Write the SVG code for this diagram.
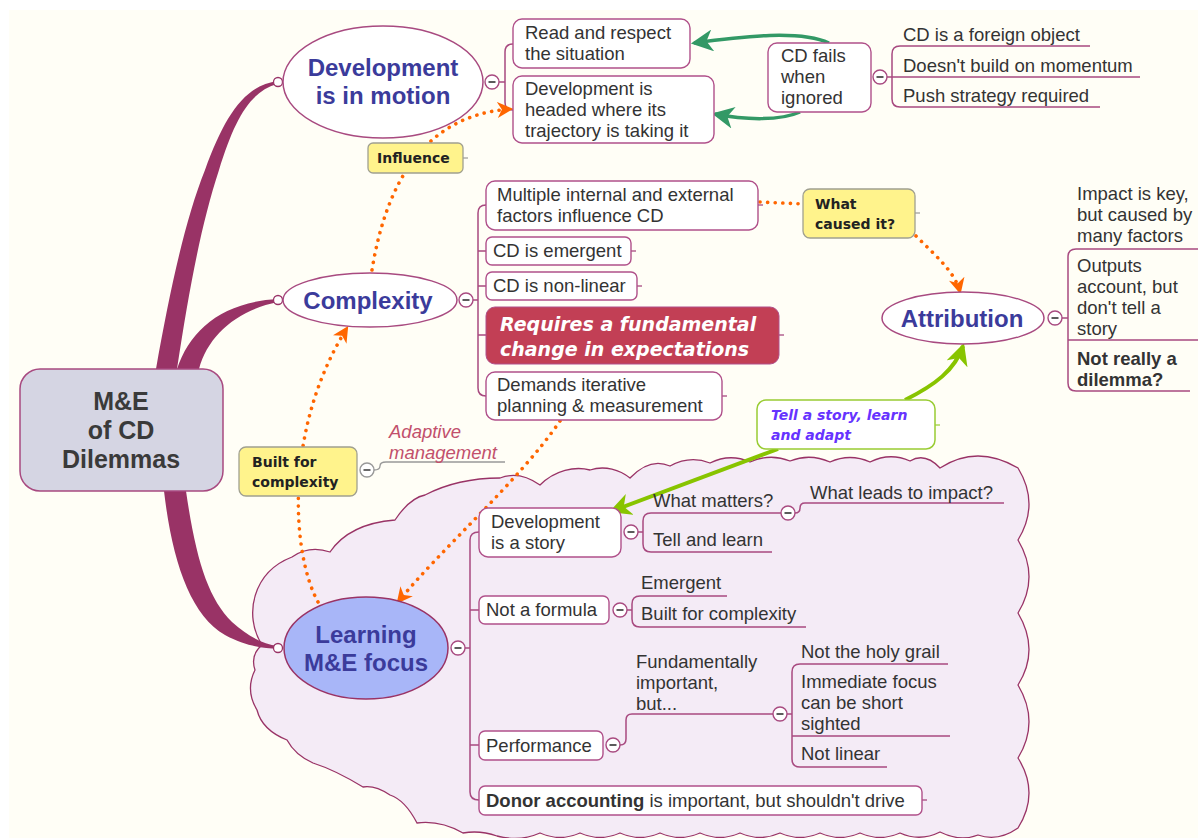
<svg xmlns="http://www.w3.org/2000/svg" width="1198" height="838" viewBox="0 0 1198 838">
<style>
.t{font-family:"Liberation Sans",Arial,sans-serif;font-size:18.5px;fill:#333}
.b{font-weight:bold}
.title{font-family:"Liberation Sans",Arial,sans-serif;font-size:24px;font-weight:bold;fill:#3B3B9B;text-anchor:middle}
.lab{font-family:"DejaVu Sans",Verdana,sans-serif;font-size:14px;font-weight:bold;fill:#222}
.box{fill:#fff;stroke:#B0508A;stroke-width:1.4}
.yel{fill:#FFF38C;stroke:#A0A090;stroke-width:1.3}
.br{fill:none;stroke:#A84A80;stroke-width:1.5}
.gr{fill:none;stroke:#999;stroke-width:1.3}
.dot{fill:none;stroke:#FF6600;stroke-width:3.6;stroke-dasharray:0.1 7.5;stroke-linecap:round}
.branch{fill:#993366}
.stub{stroke:#A84A80;stroke-width:1.3}
</style>
<defs>
<g id="minus"><circle r="7" fill="#fff" stroke="#A84A80" stroke-width="1.4"/><line x1="-3.5" x2="3.5" stroke="#333" stroke-width="1.6"/></g>
<g id="minusg"><circle r="7" fill="#fff" stroke="#999" stroke-width="1.4"/><line x1="-3.5" x2="3.5" stroke="#444" stroke-width="1.6"/></g>
<g id="open"><circle r="4.5" fill="#fff" stroke="#993366" stroke-width="1.3"/></g>
<marker id="ao" viewBox="0 0 14 14" refX="12" refY="7" markerWidth="16" markerHeight="16" markerUnits="userSpaceOnUse" orient="auto"><path d="M0,0 L14,7 L0,14 L4,7 Z" fill="#FF6600"/></marker>
<marker id="ag" viewBox="0 0 14 14" refX="12" refY="7" markerWidth="22" markerHeight="22" markerUnits="userSpaceOnUse" orient="auto"><path d="M0,0 L14,7 L0,14 L4,7 Z" fill="#339966"/></marker>
<marker id="al" viewBox="0 0 14 14" refX="12" refY="7" markerWidth="22" markerHeight="22" markerUnits="userSpaceOnUse" orient="auto"><path d="M0,0 L14,7 L0,14 L4,7 Z" fill="#88C400"/></marker>
</defs>
<rect width="1198" height="838" fill="#fff"/>
<rect x="9" y="10" width="1189" height="828" fill="#FFFEF6"/>

<!-- cloud boundary -->
<path id="cloud" d="M262,645 C243,615 253,572 292,557 C305,548 318,548 330,552 C345,530 370,522 395,520 C405,505 415,497 425,495 C450,482 475,478 500,478 C515,472 530,478 540,485 C555,470 575,466 590,470 C605,465 620,470 630,478 Q650,457 670,466 Q690,455 710,463 Q730,453 750,462 Q770,453 790,461 Q810,453 830,462 Q850,453 870,462 Q890,452 910,461 Q925,452 940,468 Q977,444 1018,468 Q1040,504 1018,540 Q1040,577 1018,613 Q1040,650 1018,685 Q1040,722 1018,758 Q1040,793 1018,828 Q998,842 978,835 Q960,842 940,832 Q920,842 900,833 Q880,842 860,833 Q840,842 820,833 Q800,842 780,833 Q760,842 740,833 Q720,842 700,833 Q680,842 660,833 Q640,842 620,833 Q600,842 580,833 Q560,842 540,833 Q520,842 497,836 Q480,830 463,833 Q440,820 417,823 Q405,800 390,795 Q375,785 363,787 Q335,770 313,763 Q295,755 287,740 Q262,730 257,710 Q245,690 255,670 Q250,655 262,645 Z" fill="#F4EBF6" stroke="#993366" stroke-width="1.3"/>

<g id="connectors">
<!-- main branches -->
<path class="branch" d="M156,369 C170,290 185,220 205,170 C225,115 245,85 278,81 L277,84 C250,92 235,118 219,170 C201,225 189,290 177,369 Z"/>
<path class="branch" d="M177,369 C190,330 222,302 278,299 L278,302 C238,310 208,335 199,369 Z"/>
<path class="branch" d="M164,491 C172,560 190,615 225,635 C245,646 262,648 278,649 L278,646 C262,644 248,636 232,622 C208,598 196,560 186,491 Z"/>
<use href="#open" x="278" y="82"/>
<use href="#open" x="278" y="300"/>
<use href="#open" x="278" y="648"/>

<!-- development brackets -->
<path class="br" d="M499,82 H505 M513,44 Q505,44 505,52 L505,102 Q505,110 513,110"/>
<path class="br" d="M887,77 H892 M1090,46 H900 Q892,46 892,54 L892,99 Q892,107 900,107 H1100 M892,77 H1140"/>
<!-- complexity bracket -->
<path class="br" d="M473,300 H478 M486,205 Q478,205 478,213 L478,388 Q478,396 486,396 M478,251 H486 M478,286 H486 M478,335 H486"/>
<line class="stub" x1="758" y1="205" x2="763" y2="205"/>
<line class="stub" x1="631" y1="251" x2="636" y2="251"/>
<line class="stub" x1="637" y1="286" x2="642" y2="286"/>
<line class="stub" x1="779" y1="335" x2="784" y2="335"/>
<line class="stub" x1="722" y1="396" x2="727" y2="396"/>
<!-- attribution bracket -->
<path class="br" d="M1062,318 H1068 M1198,249 H1076 Q1068,249 1068,257 L1068,383 Q1068,391 1076,391 H1190 M1068,340 H1198"/>
<!-- learning brackets -->
<path class="br" d="M465,648 H470 M479,532 Q470,532 470,540 L470,792 Q470,800 479,800 M470,610 H479 M470,745 H479"/>
<line class="stub" x1="922" y1="800" x2="927" y2="800"/>
<path class="br" d="M637,532 H643 M781,513 H651 Q643,513 643,521 L643,544 Q643,552 651,552 H772 M795,513 Q800,513 800,508 Q800,503 805,503 H1004"/>
<path class="br" d="M627,610 H632 M727,596 H640 Q632,596 632,604 L632,619 Q632,627 640,627 H806"/>
<path class="br" d="M620,745 Q626,745 626,739 L626,720 Q626,714 632,714 H773 M787,714 H792 M948,664 H800 Q792,664 792,672 L792,759 Q792,767 800,767 H887 M792,736 H950"/>
<!-- built for complexity gray -->
<path class="gr" d="M374,470 Q380,470 380,466 Q380,462 386,462 H505"/>
<line x1="463" y1="158" x2="468" y2="158" stroke="#999" stroke-width="1.2"/>
<line x1="915" y1="213" x2="920" y2="213" stroke="#999" stroke-width="1.2"/>
<line x1="935" y1="425" x2="940" y2="425" stroke="#99CC33" stroke-width="1.2"/>

<!-- relationships -->
<path class="dot" d="M372,270 C385,190 420,115 511,109" marker-end="url(#ao)"/>
<path class="dot" d="M318,602 C292,555 283,430 347,328" marker-end="url(#ao)"/>
<path class="dot" d="M560,421 C520,480 440,550 398,602" marker-end="url(#ao)"/>
<path class="dot" d="M760,202 L803,204"/>
<path class="dot" d="M916,236 C935,255 955,272 960,292" marker-end="url(#ao)"/>
<path d="M829,43 C800,30 745,36 694,43" fill="none" stroke="#339966" stroke-width="3.5" marker-end="url(#ag)"/>
<path d="M800,112 C780,121 745,120 715,114" fill="none" stroke="#339966" stroke-width="3.5" marker-end="url(#ag)"/>
<path d="M905,400 C935,385 955,370 963,346" fill="none" stroke="#88C400" stroke-width="4" marker-end="url(#al)"/>
<path d="M778,449 L612,511" fill="none" stroke="#88C400" stroke-width="4" marker-end="url(#al)"/>
</g>

<g id="central">
<rect x="20" y="369" width="203" height="122" rx="20" fill="#D5D5E3" stroke="#A84A80" stroke-width="1.5"/>
<text x="121" y="410" text-anchor="middle" font-family="Liberation Sans, Arial, sans-serif" font-size="25" font-weight="bold" fill="#3A3A3A">M&amp;E</text>
<text x="121" y="439" text-anchor="middle" font-family="Liberation Sans, Arial, sans-serif" font-size="25" font-weight="bold" fill="#3A3A3A">of CD</text>
<text x="121" y="468" text-anchor="middle" font-family="Liberation Sans, Arial, sans-serif" font-size="25" font-weight="bold" fill="#3A3A3A">Dilemmas</text>
</g>

<g id="development">
<ellipse cx="383" cy="82" rx="100" ry="56" fill="#fff" stroke="#A84A80" stroke-width="1.5"/>
<text class="title" x="383" y="76">Development</text>
<text class="title" x="383" y="104">is in motion</text>
<use href="#minus" x="492" y="82"/>
</g>
<g id="read">
<rect class="box" x="513" y="19" width="177" height="49" rx="9"/>
<text class="t" x="525" y="39">Read and respect</text>
<text class="t" x="525" y="60">the situation</text>
</g>
<g id="headed">
<rect class="box" x="513" y="76" width="201" height="67" rx="9"/>
<text class="t" x="525" y="95">Development is</text>
<text class="t" x="525" y="116">headed where its</text>
<text class="t" x="525" y="137">trajectory is taking it</text>
</g>
<g id="cdfails">
<rect class="box" x="768" y="43" width="103" height="69" rx="9"/>
<text class="t" x="781" y="62">CD fails</text>
<text class="t" x="781" y="83">when</text>
<text class="t" x="781" y="104">ignored</text>
<use href="#minus" x="880" y="77"/>
</g>
<g id="cdfails-children">
<text class="t" x="903" y="41">CD is a foreign object</text>
<text class="t" x="903" y="72">Doesn't build on momentum</text>
<text class="t" x="903" y="102">Push strategy required</text>
</g>
<g id="influence">
<rect class="yel" x="368" y="143" width="95" height="30" rx="5"/>
<text class="lab" x="377" y="163">Influence</text>
</g>

<g id="complexity">
<ellipse cx="370" cy="300" rx="87" ry="27" fill="#fff" stroke="#A84A80" stroke-width="1.5"/>
<text class="title" x="368" y="309">Complexity</text>
<use href="#minus" x="466" y="300"/>
</g>
<g id="multiple">
<rect class="box" x="486" y="181" width="272" height="49" rx="9"/>
<text class="t" x="497" y="201">Multiple internal and external</text>
<text class="t" x="497" y="222">factors influence CD</text>
</g>
<g id="emergent">
<rect class="box" x="486" y="237" width="145" height="28" rx="6"/>
<text class="t" x="493" y="257">CD is emergent</text>
</g>
<g id="nonlinear">
<rect class="box" x="486" y="272" width="151" height="28" rx="6"/>
<text class="t" x="493" y="292">CD is non-linear</text>
</g>
<g id="requires">
<rect x="486" y="307" width="293" height="57" rx="9" fill="#C23F55" stroke="#B0508A" stroke-width="1"/>
<text x="500" y="331" font-family="DejaVu Sans, Verdana, sans-serif" font-size="19" font-weight="bold" font-style="italic" fill="#fff">Requires a fundamental</text>
<text x="500" y="356" font-family="DejaVu Sans, Verdana, sans-serif" font-size="19" font-weight="bold" font-style="italic" fill="#fff">change in expectations</text>
</g>
<g id="demands">
<rect class="box" x="486" y="372" width="236" height="48" rx="9"/>
<text class="t" x="497" y="391">Demands iterative</text>
<text class="t" x="497" y="412">planning &amp; measurement</text>
</g>
<g id="whatcaused">
<rect class="yel" x="803" y="189" width="112" height="49" rx="7"/>
<text class="lab" x="815" y="209">What</text>
<text class="lab" x="815" y="229">caused it?</text>
</g>

<g id="attribution">
<ellipse cx="963" cy="318" rx="81" ry="26" fill="#fff" stroke="#A84A80" stroke-width="1.5"/>
<text class="title" x="962" y="327">Attribution</text>
<use href="#minus" x="1055" y="318"/>
</g>
<g id="attribution-children">
<text class="t" x="1077" y="200">Impact is key,</text>
<text class="t" x="1077" y="221">but caused by</text>
<text class="t" x="1077" y="242">many factors</text>
<text class="t" x="1077" y="272">Outputs</text>
<text class="t" x="1077" y="293">account, but</text>
<text class="t" x="1077" y="314">don't tell a</text>
<text class="t" x="1077" y="335">story</text>
<text class="t b" x="1077" y="365">Not really a</text>
<text class="t b" x="1077" y="386">dilemma?</text>
</g>

<g id="builtfor">
<rect class="yel" x="239" y="447" width="118" height="49" rx="7"/>
<text class="lab" x="252" y="467">Built for</text>
<text class="lab" x="252" y="487">complexity</text>
<use href="#minusg" x="367" y="470"/>
</g>
<g id="adaptive">
<text x="389" y="438" font-family="Liberation Sans, Arial, sans-serif" font-size="18.5" font-style="italic" fill="#C2506C">Adaptive</text>
<text x="389" y="459" font-family="Liberation Sans, Arial, sans-serif" font-size="18.5" font-style="italic" fill="#C2506C">management</text>
</g>
<g id="tellstory">
<rect x="757" y="400" width="178" height="49" rx="9" fill="#fff" stroke="#99CC33" stroke-width="1.5"/>
<text x="771" y="420" font-family="DejaVu Sans, Verdana, sans-serif" font-size="14" font-weight="bold" font-style="italic" fill="#6633FF">Tell a story, learn</text>
<text x="771" y="440" font-family="DejaVu Sans, Verdana, sans-serif" font-size="14" font-weight="bold" font-style="italic" fill="#6633FF">and adapt</text>
</g>

<g id="learning">
<ellipse cx="366" cy="648" rx="82" ry="51" fill="#A8B6F8" stroke="#993366" stroke-width="1.5"/>
<text class="title" x="366" y="643">Learning</text>
<text class="title" x="366" y="671">M&amp;E focus</text>
<use href="#minus" x="458" y="648"/>
</g>
<g id="devstory">
<rect class="box" x="479" y="508" width="142" height="49" rx="9"/>
<text class="t" x="491" y="528">Development</text>
<text class="t" x="491" y="549">is a story</text>
<use href="#minus" x="631" y="532"/>
</g>
<g id="devstory-children">
<text class="t" x="653" y="507">What matters?</text>
<use href="#minus" x="788" y="513"/>
<text class="t" x="810" y="499">What leads to impact?</text>
<text class="t" x="653" y="546">Tell and learn</text>
</g>
<g id="formula">
<rect class="box" x="479" y="596" width="130" height="28" rx="6"/>
<text class="t" x="486" y="616">Not a formula</text>
<use href="#minus" x="620" y="610"/>
</g>
<g id="formula-children">
<text class="t" x="641" y="589">Emergent</text>
<text class="t" x="641" y="620">Built for complexity</text>
</g>
<g id="performance">
<rect class="box" x="479" y="731" width="124" height="29" rx="6"/>
<text class="t" x="486" y="752">Performance</text>
<use href="#minus" x="613" y="745"/>
</g>
<g id="fundamentally">
<text class="t" x="636" y="668">Fundamentally</text>
<text class="t" x="636" y="689">important,</text>
<text class="t" x="636" y="710">but...</text>
<use href="#minus" x="780" y="714"/>
</g>
<g id="fundamentally-children">
<text class="t" x="801" y="658">Not the holy grail</text>
<text class="t" x="801" y="688">Immediate focus</text>
<text class="t" x="801" y="709">can be short</text>
<text class="t" x="801" y="730">sighted</text>
<text class="t" x="801" y="760">Not linear</text>
</g>
<g id="donor">
<rect class="box" x="479" y="786" width="443" height="29" rx="6"/>
<text class="t" x="486" y="807"><tspan font-weight="bold">Donor accounting</tspan> is important, but shouldn't drive</text>
</g>
</svg>
